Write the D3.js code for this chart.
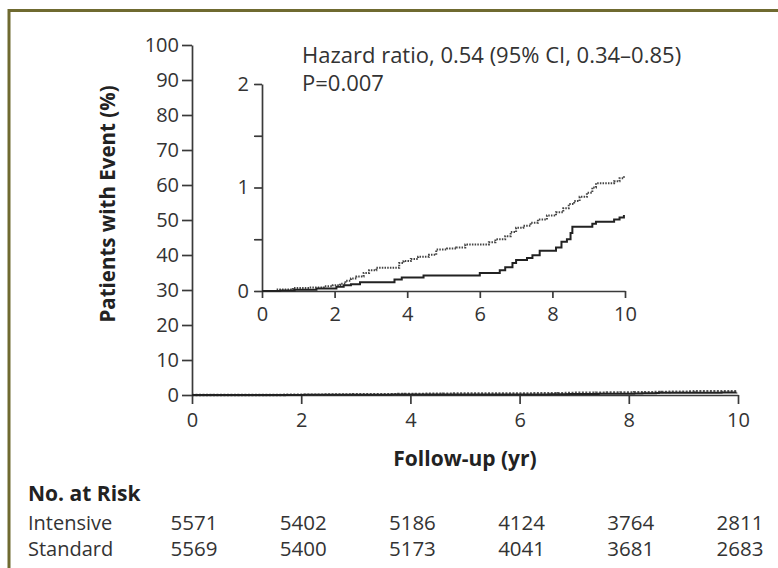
<!DOCTYPE html>
<html>
<head>
<meta charset="utf-8">
<script src="https://cdn.jsdelivr.net/npm/d3@7"></script>
<style>
  body { margin: 0; background: #fff; }
  text { font-family: "Open Sans", sans-serif; }
</style>
</head>
<body>
<div id="container"></div>
<script>
/* CONSTANTS AND GLOBALS */
const width = 778,
  height = 568;

// main chart area
const main = {left: 192, right: 738, top: 45, bottom: 395};
// inset area
const inset = {left: 262, right: 625, top: 84, bottom: 291};

/* DATA */
const xTicks = [0, 2, 4, 6, 8, 10];
const yTicksMain = [0, 10, 20, 30, 40, 50, 60, 70, 80, 90, 100];
const yTicksInset = [0, 0.5, 1, 1.5, 2];
const yLabelsInset = [0, 1, 2];

// Kaplan-Meier style steps (years, % with event)
const intensiveTime  = [0, 0.5, 0.9, 1.5, 2.05, 2.25, 2.45, 2.7, 3.65, 3.85, 4.45, 6.0, 6.55, 6.7, 6.9, 7.0, 7.3, 7.45, 7.65, 8.1, 8.25, 8.4, 8.5, 8.55, 9.1, 9.2, 9.7, 9.85, 9.97];
const intensiveEvent = [0, 0.005, 0.013, 0.023, 0.04, 0.055, 0.065, 0.085, 0.11, 0.13, 0.15, 0.175, 0.2, 0.23, 0.27, 0.3, 0.32, 0.345, 0.39, 0.42, 0.475, 0.5, 0.56, 0.62, 0.65, 0.67, 0.69, 0.71, 0.735];

const standardTime  = [0, 0.4, 0.85, 1.3, 1.7, 1.95, 2.15, 2.3, 2.45, 2.6, 2.8, 2.95, 3.15, 3.78, 3.9, 4.1, 4.3, 4.6, 4.8, 5.1, 5.35, 5.6, 6.25, 6.43, 6.7, 6.85, 7.0, 7.2, 7.4, 7.6, 7.85, 8.1, 8.3, 8.45, 8.6, 8.75, 8.95, 9.1, 9.2, 9.7, 9.85, 9.97];
const standardEvent = [0, 0.015, 0.03, 0.035, 0.045, 0.055, 0.07, 0.1, 0.12, 0.14, 0.175, 0.2, 0.225, 0.27, 0.29, 0.31, 0.33, 0.35, 0.4, 0.41, 0.42, 0.45, 0.47, 0.5, 0.53, 0.57, 0.61, 0.63, 0.66, 0.69, 0.73, 0.76, 0.8, 0.84, 0.87, 0.91, 0.95, 1.0, 1.04, 1.06, 1.09, 1.11];

const riskGroups = ["Intensive", "Standard"];
const intensiveAtRisk = [5571, 5402, 5186, 4124, 3764, 2811];
const standardAtRisk  = [5569, 5400, 5173, 4041, 3681, 2683];

const hazardText = "Hazard ratio, 0.54 (95% CI, 0.34\u20130.85)";
const pText = "P=0.007";

const intensive = intensiveTime.map((t, i) => ({t: t, v: intensiveEvent[i]}));
const standard = standardTime.map((t, i) => ({t: t, v: standardEvent[i]}));

const axisColor = "#3a3a3a";
const textColor = "#333";

const svg = d3.select("#container")
  .append("svg")
  .attr("width", width)
  .attr("height", height);

// olive frame (runs off the right and bottom edges)
svg.append("path")
  .attr("d", `M9,${height + 5}V10.5H${width + 5}`)
  .attr("fill", "none")
  .attr("stroke", "#6f6a30")
  .attr("stroke-width", 3);

/* MAIN CHART */
const xScale = d3.scaleLinear().domain([0, 10]).range([main.left, main.right]);
const yScale = d3.scaleLinear().domain([0, 100]).range([main.bottom, main.top]);

const xAxis = d3.axisBottom(xScale).tickValues(xTicks).tickSize(9).tickPadding(9).tickSizeOuter(0);
const yAxis = d3.axisLeft(yScale).tickValues(yTicksMain).tickSize(10).tickPadding(3).tickSizeOuter(0);

function styleAxis(g, fontSize) {
  g.selectAll("path, line").attr("stroke", axisColor).attr("stroke-width", 1.7);
  g.selectAll("text")
    .attr("fill", textColor)
    .style("font-family", "'Open Sans', sans-serif")
    .style("font-size", fontSize + "px");
}

svg.append("g")
  .attr("transform", `translate(0,${main.bottom})`)
  .call(xAxis)
  .call(g => styleAxis(g, 20));

svg.append("g")
  .attr("transform", `translate(${main.left},0)`)
  .call(yAxis)
  .call(g => styleAxis(g, 20));

const mainLine = d3.line()
  .curve(d3.curveStepAfter)
  .x(d => xScale(d.t))
  .y(d => yScale(d.v));

svg.append("path")
  .datum(standard)
  .attr("fill", "none")
  .attr("stroke", "#555")
  .attr("stroke-width", 2.5)
  .attr("stroke-dasharray", "2,1.5")
  .attr("d", mainLine);

svg.append("path")
  .datum(intensive)
  .attr("fill", "none")
  .attr("stroke", "#222")
  .attr("stroke-width", 2)
  .attr("d", mainLine);

/* INSET */
const xInset = d3.scaleLinear().domain([0, 10]).range([inset.left, inset.right]);
const yInset = d3.scaleLinear().domain([0, 2]).range([inset.bottom, inset.top]);

svg.append("g")
  .attr("transform", `translate(0,${inset.bottom})`)
  .call(d3.axisBottom(xInset).tickValues(xTicks).tickSize(7).tickPadding(9).tickSizeOuter(0))
  .call(g => styleAxis(g, 20));

svg.append("g")
  .attr("transform", `translate(${inset.left},0)`)
  .call(d3.axisLeft(yInset).tickValues(yTicksInset).tickSize(8).tickPadding(5).tickSizeOuter(0)
    .tickFormat(d => yLabelsInset.includes(d) ? d3.format("d")(d) : ""))
  .call(g => styleAxis(g, 20));

const insetLine = d3.line()
  .curve(d3.curveStepAfter)
  .x(d => xInset(d.t))
  .y(d => yInset(d.v));

svg.append("path")
  .datum(standard)
  .attr("fill", "none")
  .attr("stroke", "#444")
  .attr("stroke-width", 2)
  .attr("stroke-dasharray", "1.5,1.2")
  .attr("d", insetLine);

svg.append("path")
  .datum(intensive)
  .attr("fill", "none")
  .attr("stroke", "#222")
  .attr("stroke-width", 2)
  .attr("d", insetLine);

/* ANNOTATIONS */
svg.append("text")
  .attr("x", 302).attr("y", 63)
  .attr("fill", textColor)
  .style("font-size", "22px")
  .text(hazardText);

svg.append("text")
  .attr("x", 302).attr("y", 91)
  .attr("fill", textColor)
  .style("font-size", "22px")
  .text(pText);

// axis titles
svg.append("text")
  .attr("transform", "translate(115,204) rotate(-90)")
  .attr("text-anchor", "middle")
  .attr("fill", "#222")
  .style("font-size", "20.5px")
  .style("font-weight", "bold")
  .text("Patients with Event (%)");

svg.append("text")
  .attr("x", 465).attr("y", 466)
  .attr("text-anchor", "middle")
  .attr("fill", "#222")
  .style("font-size", "21px")
  .style("font-weight", "bold")
  .text("Follow-up (yr)");

/* NUMBER AT RISK */
svg.append("text")
  .attr("x", 28).attr("y", 501)
  .attr("fill", "#222")
  .style("font-size", "21px")
  .style("font-weight", "bold")
  .text("No. at Risk");

const riskRows = [intensiveAtRisk, standardAtRisk];
const rowY = [530, 556];

riskGroups.forEach((name, i) => {
  svg.append("text")
    .attr("x", 28).attr("y", rowY[i])
    .attr("fill", textColor)
    .style("font-size", "20px")
    .text(name);

  svg.selectAll(".risk" + i)
    .data(riskRows[i])
    .join("text")
    .attr("class", "risk" + i)
    .attr("x", (d, j) => xScale(xTicks[j]) + 2)
    .attr("y", rowY[i])
    .attr("text-anchor", "middle")
    .attr("fill", textColor)
    .style("font-size", "20.5px")
    .text(d => d);
});
</script>
</body>
</html>
